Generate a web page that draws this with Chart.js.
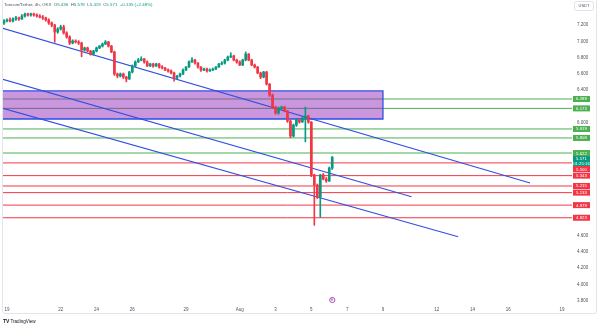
<!DOCTYPE html>
<html>
<head>
<meta charset="utf-8">
<script src="https://cdn.jsdelivr.net/npm/chart.js@4.4.1/dist/chart.umd.min.js"></script>
<style>
  body { margin: 0; background: #fff; }
  #wrap { position: relative; width: 600px; height: 327px; font-family: "Liberation Sans", Arial, sans-serif; }
  #frame { position: absolute; left: 2px; top: -2px; width: 593px; height: 314px; border: 1px solid #e3e5ec; border-radius: 3px; pointer-events: none; }
  #legend { position: absolute; left: 4px; top: 2px; font-size: 4.4px; line-height: 5px; color: #50535e; white-space: pre; }
  #legend .v { color: #089981; }
  #unit { position: absolute; left: 574px; top: 1px; width: 18px; height: 8px; border: 1px solid #e0e3eb; border-radius: 2px; font-size: 4px; line-height: 8px; text-align: center; color: #50535e; }
  #logo { position: absolute; left: 3px; top: 318px; font-size: 4.6px; line-height: 6px; color: #131722; }
  #logo b { font-size: 5px; margin-right: 1px; }
</style>
</head>
<body>
<div id="wrap">
  <canvas id="tonChart" width="600" height="327"></canvas>
  <div id="frame"></div>
  <div id="legend">Toncoin/Tether, 4h, OKX  O<span class="v">5.436</span>  H<span class="v">5.578</span>  L<span class="v">5.419</span>  C<span class="v">5.571</span>  <span class="v">+0.135 (+2.48%)</span></div>
  <div id="unit">USDT</div>
  <div id="logo"><b>TV</b>TradingView</div>
</div>
<script>
// TON/USDT 4h candles, Jul 18 20:00 -> Aug 6 04:00 (x unit = days from Jul 19)
var firstCandleDay = -1 / 6;
var openPrices = [
  7.227, 7.252, 7.264, 7.252, 7.277, 7.289, 7.277, 7.314, 7.338, 7.326,
  7.338, 7.326, 7.314, 7.301, 7.289, 7.264, 7.227, 7.202, 7.116, 7.153,
  7.178, 7.104, 7.054, 6.980, 7.005, 6.993, 6.980, 6.894, 6.919, 6.881,
  6.844, 6.881, 6.919, 6.943, 6.968, 6.993, 6.943, 6.869, 6.598, 6.573,
  6.598, 6.560, 6.536, 6.622, 6.696, 6.746, 6.770, 6.783, 6.746, 6.696,
  6.721, 6.696, 6.721, 6.684, 6.672, 6.647, 6.635, 6.610, 6.548, 6.573,
  6.598, 6.647, 6.684, 6.746, 6.770, 6.733, 6.684, 6.647, 6.659, 6.635,
  6.647, 6.659, 6.684, 6.721, 6.733, 6.770, 6.807, 6.820, 6.770, 6.746,
  6.709, 6.770, 6.844, 6.770, 6.709, 6.684, 6.610, 6.560, 6.622, 6.474,
  6.338, 6.190, 6.116, 6.178, 6.190, 6.141, 6.017, 5.832, 5.968, 6.030,
  6.005, 6.054, 6.079, 6.005, 5.351, 5.227, 5.079, 5.351, 5.301, 5.277,
  5.436
];
var highPrices = [
  7.27, 7.28, 7.29, 7.29, 7.31, 7.30, 7.33, 7.35, 7.35, 7.35,
  7.35, 7.34, 7.33, 7.32, 7.30, 7.28, 7.24, 7.21, 7.17, 7.20,
  7.20, 7.12, 7.07, 7.02, 7.02, 7.01, 6.99, 6.93, 6.93, 6.89,
  6.89, 6.93, 6.95, 6.98, 7.01, 7.00, 6.95, 6.88, 6.61, 6.61,
  6.61, 6.57, 6.63, 6.71, 6.76, 6.79, 6.81, 6.79, 6.76, 6.73,
  6.73, 6.73, 6.73, 6.70, 6.68, 6.66, 6.65, 6.62, 6.58, 6.61,
  6.66, 6.69, 6.76, 6.80, 6.78, 6.74, 6.69, 6.67, 6.67, 6.66,
  6.67, 6.69, 6.73, 6.75, 6.78, 6.82, 6.86, 6.83, 6.78, 6.76,
  6.78, 6.87, 6.85, 6.78, 6.72, 6.69, 6.62, 6.63, 6.63, 6.48,
  6.35, 6.20, 6.19, 6.20, 6.20, 6.15, 6.03, 5.98, 6.04, 6.04,
  6.07, 6.19, 6.09, 6.01, 5.36, 5.24, 5.36, 5.37, 5.32, 5.45,
  5.578
];
var lowPrices = [
  7.21, 7.24, 7.24, 7.24, 7.26, 7.26, 7.27, 7.30, 7.31, 7.31,
  7.31, 7.30, 7.29, 7.27, 7.25, 7.21, 7.18, 6.99, 7.10, 7.14,
  7.09, 7.04, 6.96, 6.97, 6.98, 6.96, 6.81, 6.88, 6.87, 6.83,
  6.83, 6.87, 6.91, 6.93, 6.96, 6.93, 6.86, 6.58, 6.55, 6.56,
  6.54, 6.50, 6.53, 6.61, 6.69, 6.74, 6.76, 6.73, 6.69, 6.69,
  6.68, 6.69, 6.67, 6.66, 6.64, 6.62, 6.60, 6.51, 6.54, 6.56,
  6.59, 6.64, 6.68, 6.74, 6.72, 6.67, 6.63, 6.64, 6.62, 6.63,
  6.64, 6.65, 6.68, 6.71, 6.72, 6.76, 6.80, 6.76, 6.73, 6.70,
  6.70, 6.76, 6.76, 6.70, 6.67, 6.60, 6.54, 6.55, 6.46, 6.32,
  6.17, 6.10, 6.10, 6.16, 6.13, 6.00, 5.81, 5.82, 5.95, 5.99,
  6.00, 5.76, 5.99, 5.33, 4.73, 5.06, 4.83, 5.29, 5.26, 5.27,
  5.419
];
var closePrices = [
  7.252, 7.264, 7.252, 7.277, 7.289, 7.277, 7.314, 7.338, 7.326, 7.338,
  7.326, 7.314, 7.301, 7.289, 7.264, 7.227, 7.202, 7.116, 7.153, 7.178,
  7.104, 7.054, 6.980, 7.005, 6.993, 6.980, 6.894, 6.919, 6.881, 6.844,
  6.881, 6.919, 6.943, 6.968, 6.993, 6.943, 6.869, 6.598, 6.573, 6.598,
  6.560, 6.536, 6.622, 6.696, 6.746, 6.770, 6.783, 6.746, 6.696, 6.721,
  6.696, 6.721, 6.684, 6.672, 6.647, 6.635, 6.610, 6.548, 6.573, 6.598,
  6.647, 6.684, 6.746, 6.770, 6.733, 6.684, 6.647, 6.659, 6.635, 6.647,
  6.659, 6.684, 6.721, 6.733, 6.770, 6.807, 6.820, 6.770, 6.746, 6.709,
  6.770, 6.844, 6.770, 6.709, 6.684, 6.610, 6.560, 6.622, 6.474, 6.338,
  6.190, 6.116, 6.178, 6.190, 6.141, 6.017, 5.832, 5.968, 6.030, 6.005,
  6.054, 6.079, 6.005, 5.351, 5.227, 5.079, 5.351, 5.301, 5.277, 5.436,
  5.571
];

// time axis ticks (days from Jul 19) and price axis ticks
var tickDays = [0, 3, 5, 7, 10, 13, 15, 17, 19, 21, 24, 26, 28, 31];
var tickLabels = ["19", "22", "24", "26", "29", "Aug", "3", "5", "7", "9", "12", "14", "16", "19"];
var priceTicks = [3.8, 4.0, 4.2, 4.4, 4.6, 6.0, 6.4, 6.6, 6.8, 7.0, 7.2];

// drawings
var greenLevels = [6.289, 6.173, 5.919, 5.808, 5.622];
var redLevels = [5.500, 5.343, 5.215, 5.133, 4.979, 4.823];
var zoneTop = 6.388;
var zoneBottom = 6.042;
var zoneEndDay = 21;
var trendFrom = [[-0.3, 7.165], [-0.3, 6.536], [-0.3, 6.178]];
var trendTo = [[29.22, 5.252], [22.6, 5.083], [25.2, 4.589]];
var lastPrice = 5.571;
var countdown = "01:25:16";
var eventDay = 18.17;

var upColor = "#089981";
var downColor = "#f23645";
var xMin = -0.223, xMax = 31.56;
var font = "'Liberation Sans', Arial, sans-serif";

var candleColors = closePrices.map(function (c, i) {
  return c >= openPrices[i] ? upColor : downColor;
});
var bodies = closePrices.map(function (c, i) {
  return { x: firstCandleDay + i / 6, y: [openPrices[i], c] };
});
var wicks = closePrices.map(function (c, i) {
  return { x: firstCandleDay + i / 6, y: [lowPrices[i], highPrices[i]] };
});

var datasets = [];
greenLevels.forEach(function (lv) {
  datasets.push({ type: "line", data: [{ x: xMin - 1, y: lv }, { x: xMax + 1, y: lv }],
    borderColor: "#4caf50", borderWidth: 1, pointRadius: 0, order: 6 });
});
redLevels.forEach(function (lv) {
  datasets.push({ type: "line", data: [{ x: xMin - 1, y: lv }, { x: xMax + 1, y: lv }],
    borderColor: "#f23645", borderWidth: 1, pointRadius: 0, order: 6 });
});
// purple zone
datasets.push({
  type: "line",
  data: [{ x: xMin - 1, y: zoneTop }, { x: zoneEndDay, y: zoneTop }, { x: zoneEndDay, y: zoneBottom },
         { x: xMin - 1, y: zoneBottom }, { x: xMin - 1, y: zoneTop }],
  borderColor: "#2e4fe6", borderWidth: 1.3, backgroundColor: "rgba(150, 45, 190, 0.5)",
  fill: "shape", pointRadius: 0, order: 5
});
// channel lines
trendFrom.forEach(function (p, i) {
  datasets.push({ type: "line", data: [{ x: p[0], y: p[1] }, { x: trendTo[i][0], y: trendTo[i][1] }],
    borderColor: "#3150e0", borderWidth: 1.1, pointRadius: 0, order: 4 });
});
datasets.push({ type: "bar", data: wicks, backgroundColor: candleColors, barThickness: 1, grouped: false, order: 2 });
datasets.push({ type: "bar", data: bodies, backgroundColor: candleColors, barThickness: 2, grouped: false, order: 1 });

// price tags on the right scale
var priceTags = {
  id: "priceTags",
  afterDraw: function (chart) {
    var ctx = chart.ctx, y = chart.scales.y, left = chart.chartArea.right + 1;
    var tags = [];
    greenLevels.forEach(function (v) { tags.push({ v: v, c: "#4caf50", t: [v.toFixed(3)], h: 6 }); });
    redLevels.forEach(function (v) { tags.push({ v: v, c: "#f23645", t: [v.toFixed(3)], h: 6 }); });
    tags.push({ v: lastPrice, c: upColor, t: [lastPrice.toFixed(3), countdown], h: 10 });
    tags.sort(function (a, b) { return b.v - a.v; });
    var prevBottom = -100;
    ctx.save();
    ctx.font = "4.3px " + font;
    ctx.textAlign = "center";
    ctx.textBaseline = "middle";
    tags.forEach(function (tg) {
      var cy = y.getPixelForValue(tg.v);
      var top = tg.t.length > 1 ? cy - 2 : cy - tg.h / 2;
      if (top < prevBottom) top = prevBottom;
      ctx.fillStyle = tg.c;
      ctx.fillRect(left, top, 17, tg.h);
      ctx.fillStyle = "#fff";
      if (tg.t.length > 1) {
        ctx.fillText(tg.t[0], left + 8.5, top + 2.6);
        ctx.fillText(tg.t[1], left + 8.5, top + 7.4);
      } else {
        ctx.fillText(tg.t[0], left + 8.5, top + tg.h / 2 + 0.3);
      }
      prevBottom = top + tg.h;
    });
    // event marker on the time line
    var ex = chart.scales.x.getPixelForValue(eventDay);
    var ey = chart.chartArea.bottom - 2;
    ctx.strokeStyle = "#9c27b0";
    ctx.lineWidth = 0.8;
    ctx.beginPath();
    ctx.arc(ex, ey, 2.6, 0, Math.PI * 2);
    ctx.stroke();
    ctx.fillStyle = "#9c27b0";
    ctx.font = "3.6px " + font;
    ctx.fillText("E", ex, ey + 0.2);
    ctx.restore();
  }
};

function noPadding(scale) {
  scale.paddingTop = 0;
  scale.paddingBottom = 0;
  scale.paddingLeft = 0;
  scale.paddingRight = 0;
}

var ctx = document.getElementById("tonChart").getContext("2d");
var tonChart = new Chart(ctx, {
  type: "bar",
  data: { datasets: datasets },
  plugins: [priceTags],
  options: {
    responsive: false,
    animation: false,
    layout: { padding: { left: 3, bottom: 12 } },
    plugins: { legend: { display: false }, tooltip: { enabled: false } },
    scales: {
      x: {
        type: "linear", min: xMin, max: xMax, offset: false,
        grid: { display: false, drawTicks: false }, border: { display: false },
        afterBuildTicks: function (scale) {
          scale.ticks = tickDays.map(function (d) { return { value: d }; });
        },
        afterFit: function (scale) { scale.height = 13; noPadding(scale); },
        ticks: {
          autoSkip: false, maxRotation: 0, padding: 5, color: "#50535e",
          font: { size: 4.5, family: font },
          callback: function (v, i) { return tickLabels[i]; }
        }
      },
      y: {
        type: "linear", position: "right", min: 3.783, max: 7.511,
        grid: { display: false, drawTicks: false }, border: { display: false },
        afterBuildTicks: function (scale) {
          scale.ticks = priceTicks.map(function (p) { return { value: p }; });
        },
        afterFit: function (scale) { scale.width = 28; noPadding(scale); },
        ticks: {
          autoSkip: false, padding: 5, color: "#50535e",
          font: { size: 4.5, family: font },
          callback: function (v) { return v.toFixed(3); }
        }
      }
    }
  }
});
</script>
</body>
</html>
